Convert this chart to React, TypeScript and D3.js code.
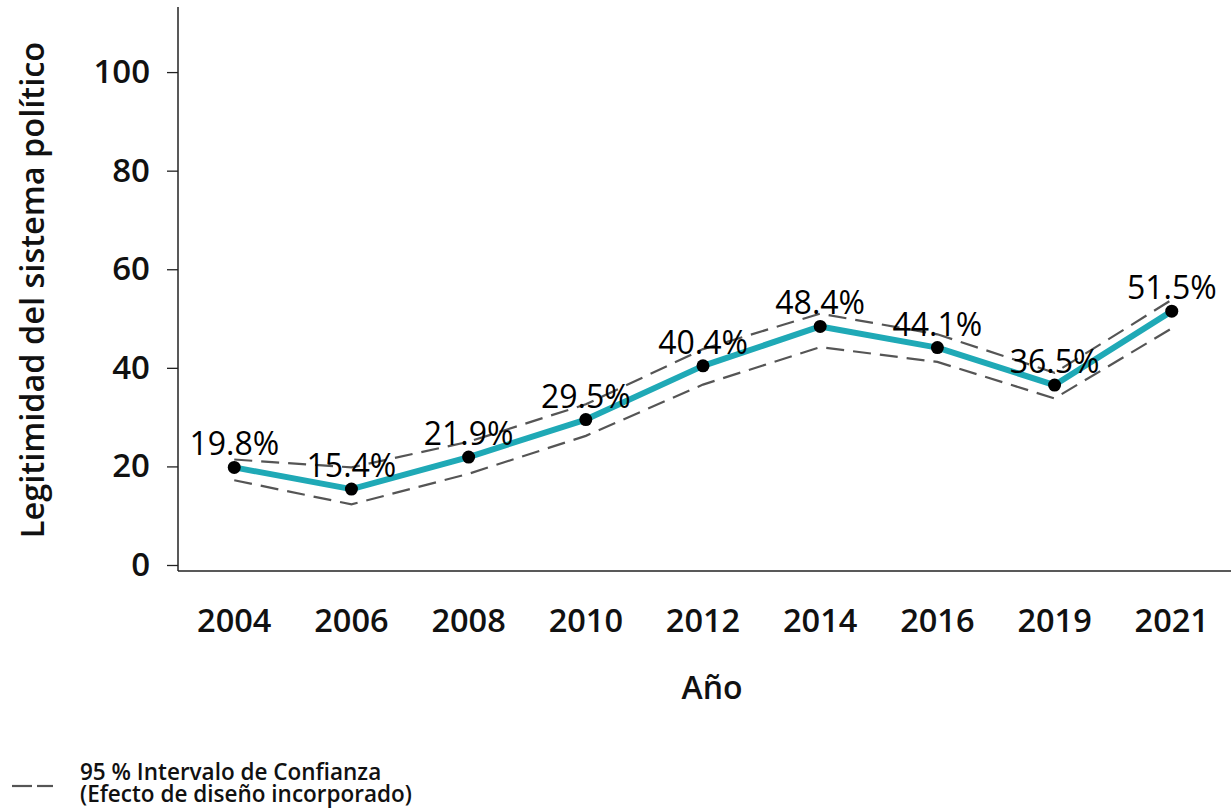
import React, { useRef, useEffect, useMemo } from "react";
import * as d3 from "d3";

const years = ["2004", "2006", "2008", "2010", "2012", "2014", "2016", "2019", "2021"];
const values = [19.8, 15.4, 21.9, 29.5, 40.4, 48.4, 44.1, 36.5, 51.5];
const lower = [17.2, 12.3, 18.5, 26.2, 36.6, 44.2, 41.2, 33.8, 48.0];
const upper = [21.4, 19.8, 25.0, 32.6, 43.8, 51.0, 46.8, 39.0, 53.8];
const yTicks = [0, 20, 40, 60, 80, 100];

const width = 1231;
const height = 809;
const font = "'Open Sans', 'Noto Sans', sans-serif";
const teal = "#1fa9b6";
const dashColor = "#555555";

const App = () => {
  const yAxisRef = useRef<SVGGElement>(null);

  const xScale = useMemo(
    () => d3.scalePoint().domain(years).range([178, 1228]).padding(0.48),
    []
  );
  const yScale = useMemo(() => d3.scaleLinear().domain([0, 113]).range([565, 8]), []);

  useEffect(() => {
    const yAxis = d3.axisLeft(yScale).tickValues(yTicks).tickSize(11).tickPadding(17);
    const g = d3.select(yAxisRef.current);
    g.call(yAxis as any);
    g.select(".domain").remove();
    g.selectAll(".tick line").attr("stroke", "#222").attr("stroke-width", 1.3);
    g.selectAll(".tick text")
      .attr("font-family", font)
      .attr("font-size", 33)
      .attr("font-weight", 600)
      .attr("fill", "#111");
  }, [yScale]);

  const line = d3
    .line<number>()
    .x((_, i) => xScale(years[i]) as number)
    .y((d) => yScale(d));

  return (
    <svg
      width={width}
      height={height}
      style={{ position: "fixed", left: 0, top: 0, background: "#fff" }}
    >
      {/* axes */}
      <g ref={yAxisRef} transform="translate(178,0)" />
      <line x1={178} x2={178} y1={7} y2={571} stroke="#222" strokeWidth={1.5} />
      <line x1={178} x2={1231} y1={571} y2={571} stroke="#222" strokeWidth={1.5} />

      {years.map((yr) => (
        <text
          key={yr}
          x={xScale(yr)}
          y={632}
          textAnchor="middle"
          fontFamily={font}
          fontSize={32.5}
          fontWeight={600}
          fill="#111"
        >
          {yr}
        </text>
      ))}

      <text
        x={712}
        y={699}
        textAnchor="middle"
        fontFamily={font}
        fontSize={32}
        fontWeight={600}
        fill="#111"
      >
        Año
      </text>
      <text
        transform="translate(44,290) rotate(-90)"
        textAnchor="middle"
        fontFamily={font}
        fontSize={32.5}
        fontWeight={600}
        fill="#111"
      >
        Legitimidad del sistema político
      </text>

      {/* confidence interval */}
      <path d={line(upper) || ""} fill="none" stroke={dashColor} strokeWidth={2.2} strokeDasharray="18 9" />
      <path d={line(lower) || ""} fill="none" stroke={dashColor} strokeWidth={2.2} strokeDasharray="18 9" />

      {/* main series */}
      <path d={line(values) || ""} fill="none" stroke={teal} strokeWidth={6} strokeLinejoin="round" />
      {values.map((v, i) => (
        <circle key={years[i]} cx={xScale(years[i])} cy={yScale(v)} r={6.5} fill="#000" />
      ))}
      {values.map((v, i) => (
        <text
          key={"l" + years[i]}
          x={xScale(years[i])}
          y={yScale(v) - 12}
          textAnchor="middle"
          fontFamily={font}
          fontSize={32}
          fill="#000"
        >
          {v.toFixed(1)}%
        </text>
      ))}

      {/* legend */}
      <line x1={12} x2={32} y1={786} y2={786} stroke={dashColor} strokeWidth={2.2} />
      <line x1={37} x2={53} y1={786} y2={786} stroke={dashColor} strokeWidth={2.2} />
      <text x={80} y={780} fontFamily={font} fontSize={22.5} fontWeight={600} fill="#111">
        95 % Intervalo de Confianza
      </text>
      <text x={80} y={802} fontFamily={font} fontSize={22.5} fontWeight={600} fill="#111">
        (Efecto de diseño incorporado)
      </text>
    </svg>
  );
};

export default App;
